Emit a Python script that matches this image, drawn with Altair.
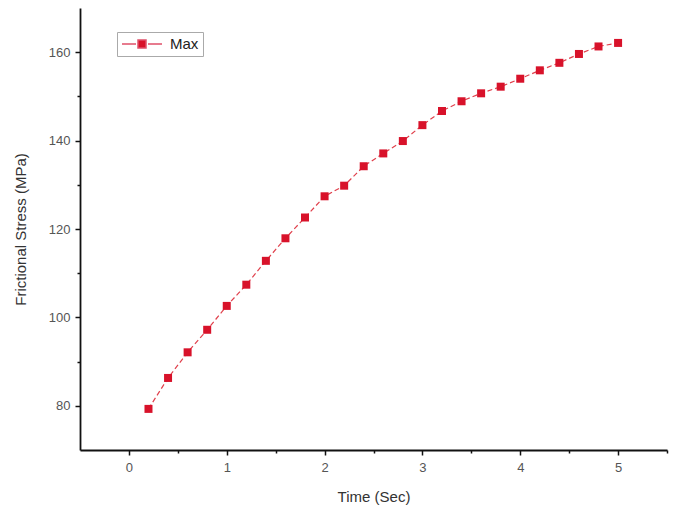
import altair as alt
import pandas as pd

time_sec = [0.2, 0.4, 0.6, 0.8, 1.0, 1.2, 1.4, 1.6, 1.8, 2.0, 2.2, 2.4, 2.6,
            2.8, 3.0, 3.2, 3.4, 3.6, 3.8, 4.0, 4.2, 4.4, 4.6, 4.8, 5.0]
max_stress = [79.3, 86.3, 92.1, 97.2, 102.6, 107.4, 112.8, 117.9, 122.6, 127.4,
              129.8, 134.2, 137.1, 139.9, 143.5, 146.7, 148.9, 150.7, 152.2,
              154.0, 155.9, 157.6, 159.6, 161.3, 162.1]
series_name = ["Max"] * len(time_sec)

x_tick_values = [0, 0.5, 1, 1.5, 2, 2.5, 3, 3.5, 4, 4.5, 5, 5.5]
y_tick_values = [80, 90, 100, 110, 120, 130, 140, 150, 160]

df = pd.DataFrame({"t": time_sec, "s": max_stress, "series": series_name})

FONT = "Liberation Sans"
RED = "#d8122a"

x_enc = alt.X(
    "t:Q",
    scale=alt.Scale(domain=[-0.5, 5.5], nice=False, zero=False),
    axis=alt.Axis(
        title="Time (Sec)",
        values=x_tick_values,
        format="~g",
        labelExpr="datum.value % 1 === 0 ? datum.label : ''",
        tickSize={"condition": {"test": "datum.value % 1 !== 0", "value": 3}, "value": 5},
        grid=False,
        domainColor="#111",
        domainWidth=1.8,
        tickColor="#111",
        tickWidth=1.5,
        labelFont=FONT,
        labelFontSize=13,
        labelColor="#555",
        labelPadding=6,
        titleFont=FONT,
        titleFontSize=15,
        titleFontWeight="normal",
        titleColor="#333",
        titlePadding=15,
    ),
)
y_enc = alt.Y(
    "s:Q",
    scale=alt.Scale(domain=[70, 170], nice=False, zero=False),
    axis=alt.Axis(
        title="Frictional Stress (MPa)",
        values=y_tick_values,
        format="d",
        labelExpr="datum.value % 20 === 0 ? datum.label : ''",
        tickSize={"condition": {"test": "datum.value % 20 !== 0", "value": 3}, "value": 5},
        grid=False,
        domainColor="#111",
        domainWidth=1.8,
        tickColor="#111",
        tickWidth=1.5,
        labelFont=FONT,
        labelFontSize=13,
        labelColor="#555",
        labelPadding=5,
        titleFont=FONT,
        titleFontSize=15,
        titleFontWeight="normal",
        titleColor="#333",
        titlePadding=20,
    ),
)

legend_symbol = "M-1,0H-0.3M0.3,0H1M-0.2,-0.2H0.2V0.2H-0.2Z"

line = alt.Chart(df).mark_line(
    color="#e0404c", strokeWidth=1.2, strokeDash=[5, 3]
).encode(x=x_enc, y=y_enc)

points = alt.Chart(df).mark_point(
    shape="square", filled=True, size=64, opacity=1
).encode(
    x="t:Q",
    y="s:Q",
    color=alt.Color(
        "series:N",
        scale=alt.Scale(range=[RED]),
        legend=alt.Legend(
            title=None,
            orient="none",
            legendX=37,
            legendY=24,
            padding=4,
            clipHeight=16,
            strokeColor="#aaa",
            fillColor="white",
            symbolType=legend_symbol,
            symbolSize=1600,
            symbolStrokeWidth=1.5,
            symbolStrokeColor="#e0506a",
            symbolFillColor=RED,
            symbolOpacity=1,
            labelFont=FONT,
            labelFontSize=15,
            labelColor="#222",
            labelOffset=7,
        ),
    ),
)

chart = alt.layer(line, points).properties(
    width=587,
    height=442,
    background="white",
    autosize=alt.AutoSizeParams(type="none"),
    padding={"left": 80, "top": 8, "right": 11, "bottom": 63},
).configure_view(stroke=None)

chart.save("out.html", embed_options={"renderer": "svg", "actions": False})
